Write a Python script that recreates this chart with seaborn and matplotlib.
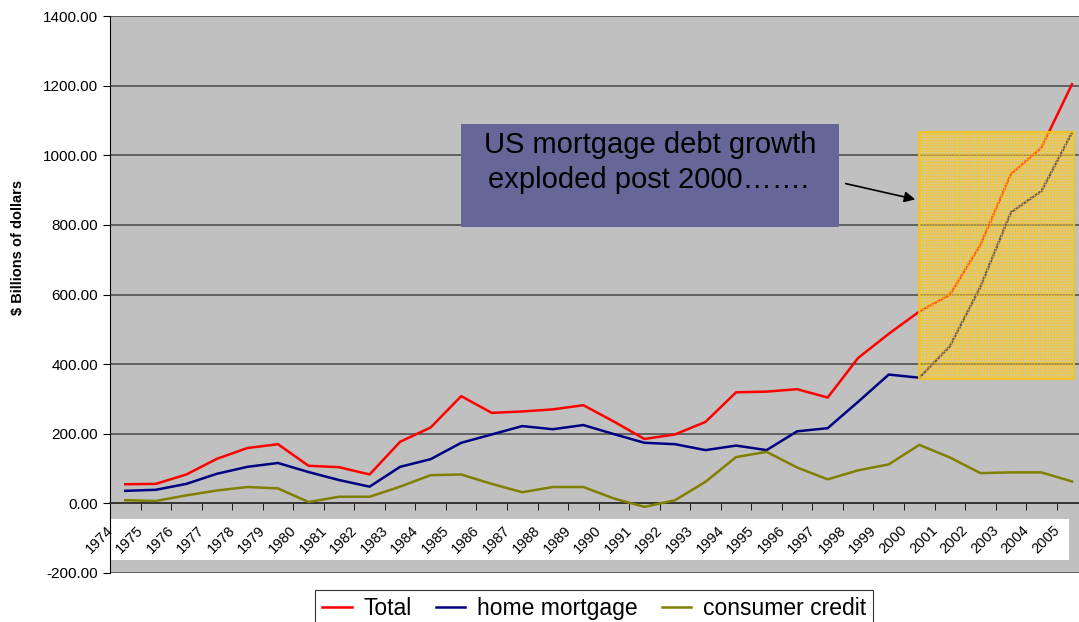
import numpy as np
import pandas as pd
import matplotlib.pyplot as plt
import seaborn as sns
from matplotlib.patches import Rectangle
from matplotlib.ticker import MultipleLocator, FormatStrFormatter

# 数据（从图上读取，单位：十亿美元）
years = list(range(1974, 2006))
total = [55, 56, 83, 128, 159, 170, 108, 104, 83, 177, 218, 308, 260, 264, 270, 282,
         235, 185, 198, 234, 319, 321, 328, 304, 418, 487, 551, 599, 742, 946, 1022, 1204]
home_mortgage = [36, 39, 56, 85, 105, 116, 90, 67, 48, 105, 127, 174, 198, 222, 213, 225,
                 199, 174, 170, 153, 166, 153, 207, 216, 292, 370, 361, 451, 622, 836, 897, 1065]
consumer_credit = [9, 7, 23, 37, 47, 43, 4, 19, 19, 48, 81, 83, 56, 32, 47, 47,
                   14, -10, 9, 62, 133, 148, 103, 69, 95, 112, 168, 132, 87, 89, 89, 63]
series_names = ['Total', 'home mortgage', 'consumer credit']
colors = {'Total': '#ff0000', 'home mortgage': '#000080', 'consumer credit': '#808000'}

df = pd.DataFrame({
    'year': years * 3,
    'value': total + home_mortgage + consumer_credit,
    'series': [s for s in series_names for _ in years],
})

plt.rcParams['font.family'] = ['Liberation Sans', 'DejaVu Sans']
plt.rcParams['hatch.linewidth'] = 0.4

W, H = 1079, 622
fig = plt.figure(figsize=(W / 100, H / 100), dpi=100)
ax = fig.add_axes([110 / W, 1 - 573 / H, 969 / W, 557 / H])
ax.set_facecolor('#c0c0c0')

sns.lineplot(data=df, x='year', y='value', hue='series', palette=colors,
             hue_order=series_names, linewidth=1.8, legend=False, ax=ax, zorder=3)

ax.set_xlim(1973.5, 2005.23)
ax.set_ylim(-200, 1400)
ax.yaxis.set_major_locator(MultipleLocator(200))
ax.yaxis.set_major_formatter(FormatStrFormatter('%.2f'))
ax.grid(axis='y', color='#505050', linewidth=1.2, zorder=1)
ax.set_axisbelow(True)

for s in ['top', 'right']:
    ax.spines[s].set_visible(False)
ax.spines['left'].set_color('black')
ax.spines['bottom'].set_position(('data', 0))
ax.spines['bottom'].set_color('#303030')
ax.spines['bottom'].set_linewidth(1.2)
ax.set_xticks([])
ax.set_xticks([y + 0.5 for y in years[:-1]], minor=True)
ax.tick_params(axis='x', which='minor', direction='out', length=5, color='black')
ax.tick_params(axis='y', direction='out', length=5, color='black', labelsize=11)
ax.set_xlabel('')
ax.set_ylabel('$ Billions of dollars', fontsize=10.5, fontweight='bold')
ax.yaxis.set_label_coords(-0.088, 0.585)


def px(x, y):
    # 像素坐标 -> 坐标轴比例
    return (x - 110) / 969, (573 - y) / 557


# 年份标签（白色背景条）
bx, by = px(108, 560)
ax.add_patch(Rectangle((bx, by), (1069 - 108) / 969, 41 / 557, transform=ax.transAxes,
                       facecolor='white', edgecolor='none', zorder=2, clip_on=False))
trans = ax.get_xaxis_transform()
for yr in years:
    ax.text(yr - 0.85, px(0, 540)[1], str(yr), transform=trans, rotation=45, ha='center',
            va='center', fontsize=10.5, zorder=4, clip_on=False)

# 黄色网格区域
rx, ry = px(919, 379)
ax.add_patch(Rectangle((rx, ry), 0.995 - rx, (379 - 132) / 557,
                       transform=ax.transAxes, facecolor=(1.0, 0.84, 0.29, 0.42),
                       edgecolor=(0.96, 0.77, 0.1, 0.9), hatch='++++++', linewidth=1.5,
                       zorder=5))

# 文本框
tx, ty = px(461, 227)
ax.add_patch(Rectangle((tx, ty), 378 / 969, 103 / 557,
                       transform=ax.transAxes, facecolor='#666699', edgecolor='none',
                       zorder=6))
ax.text(*px(484, 153), 'US mortgage debt growth', transform=ax.transAxes,
        ha='left', va='baseline', fontsize=21, color='black', zorder=7)
ax.text(*px(488, 188), 'exploded post 2000…….', transform=ax.transAxes,
        ha='left', va='baseline', fontsize=21, color='black', zorder=7)
ax.annotate('', xy=px(918, 200), xytext=px(843, 183),
            xycoords='axes fraction', textcoords='axes fraction',
            arrowprops=dict(arrowstyle='-|>', color='black', lw=1.2, mutation_scale=16),
            zorder=7)

handles = [plt.Line2D([], [], color=colors[s], linewidth=1.8) for s in series_names]
leg = fig.legend(handles, series_names, loc='upper center', bbox_to_anchor=(594 / W, 1 - 590 / H),
                 ncol=3, fontsize=16.5, frameon=True, fancybox=False, edgecolor='black',
                 handlelength=1.3, columnspacing=1.05, borderpad=0.3, handletextpad=0.5,
                 borderaxespad=0)
leg.get_frame().set_linewidth(0.8)

fig.savefig('out.png', dpi=100)
